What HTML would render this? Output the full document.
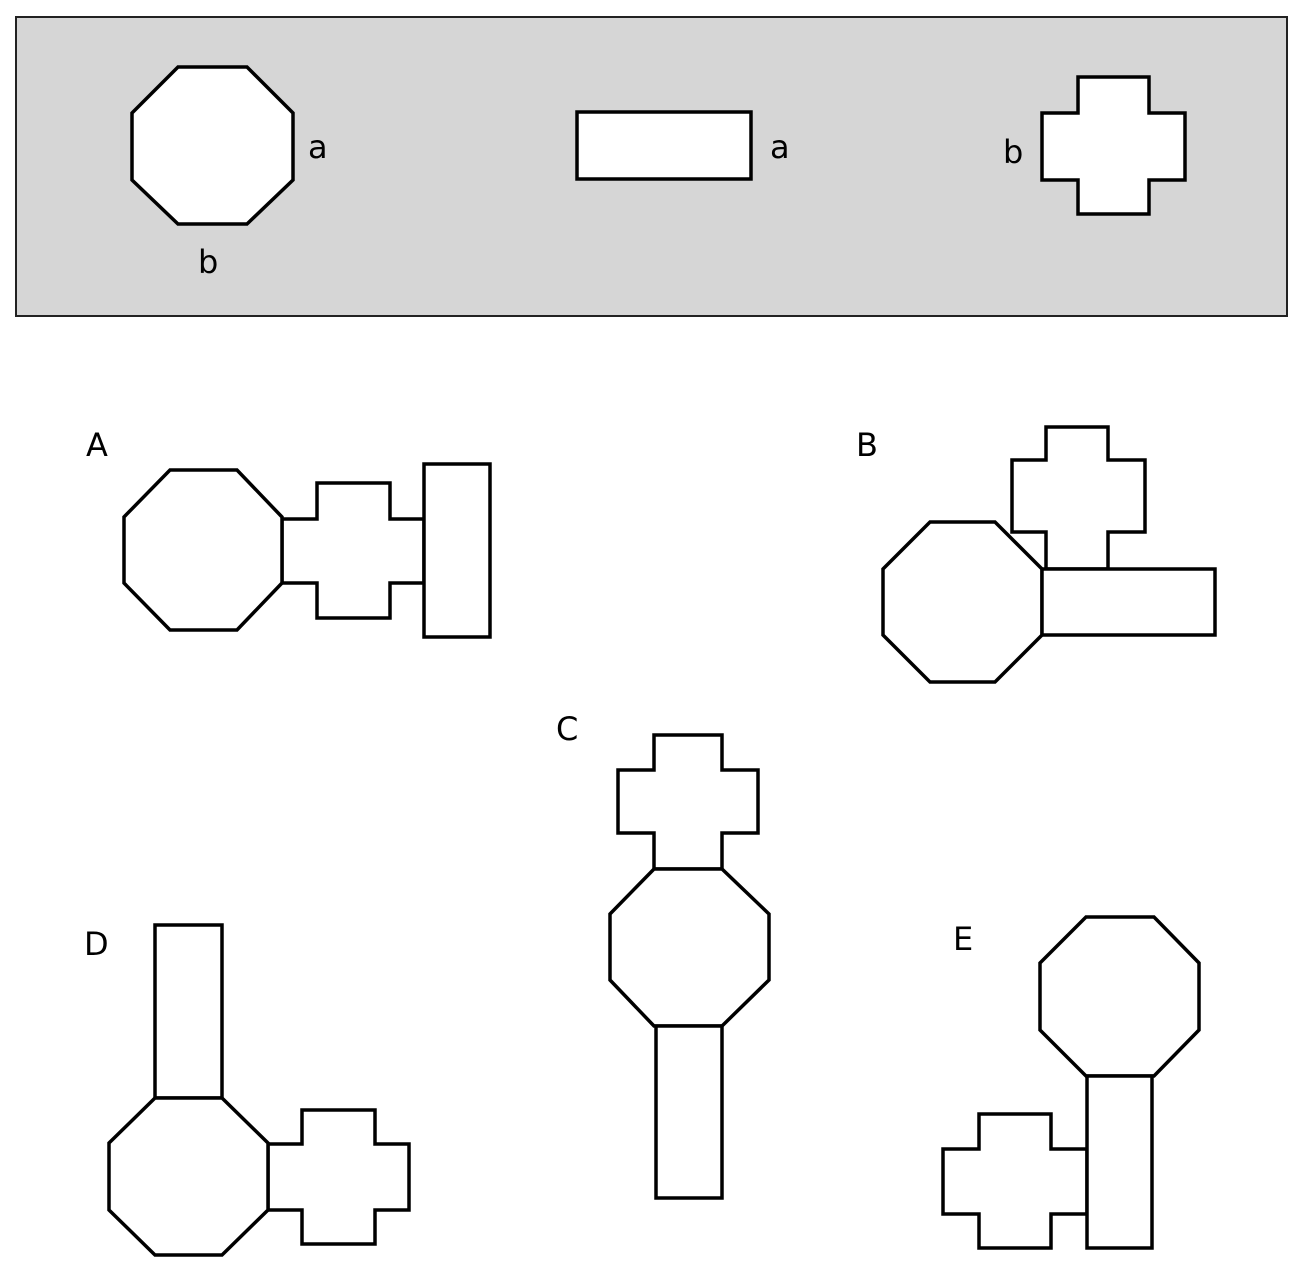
<!DOCTYPE html>
<html><head><style>body{margin:0;background:#fff}svg{display:block}text{font-family:"DejaVu Sans","Liberation Sans",sans-serif;font-size:32px;fill:#000}</style></head>
<body>
<svg width="1306" height="1276" viewBox="0 0 1306 1276" xmlns="http://www.w3.org/2000/svg">
<g stroke="#000" stroke-width="3.5" fill="#fff" stroke-linejoin="miter">
<rect x="16" y="17" width="1271" height="299" fill="#d6d6d6" stroke="#222" stroke-width="2"/>
<polygon points="178,67 247,67 293,113 293,180 247,224 178,224 132,180 132,113"/>
<rect x="577" y="112" width="174" height="67"/>
<polygon points="1078,77 1149,77 1149,113 1185,113 1185,180 1149,180 1149,214 1078,214 1078,180 1042,180 1042,113 1078,113"/>

<polygon points="317,483 390,483 390,519 424,519 424,583 390,583 390,618 317,618 317,583 282,583 282,519 317,519"/>
<polygon points="170,470 237,470 282,517 282,583 237,630 170,630 124,583 124,517"/>
<rect x="424" y="464" width="66" height="173"/>

<polygon points="1046,427 1108,427 1108,460 1145,460 1145,532 1108,532 1108,569 1046,569 1046,532 1012,532 1012,460 1046,460"/>
<polygon points="930,522 995,522 1042,569 1042,635 995,682 930,682 883,635 883,569"/>
<rect x="1042" y="569" width="173" height="66"/>

<polygon points="654,735 722,735 722,770 758,770 758,833 722,833 722,869 654,869 654,833 618,833 618,770 654,770"/>
<polygon points="654,869 722,869 769,914 769,980 722,1026 654,1026 610,980 610,914"/>
<rect x="656" y="1026" width="66" height="172"/>

<rect x="155" y="925" width="67" height="173"/>
<polygon points="302,1110 375,1110 375,1144 409,1144 409,1210 375,1210 375,1244 302,1244 302,1210 268,1210 268,1144 302,1144"/>
<polygon points="155,1098 222,1098 268,1143 268,1210 222,1255 155,1255 109,1210 109,1143"/>

<polygon points="979,1114 1051,1114 1051,1149 1087,1149 1087,1214 1051,1214 1051,1248 979,1248 979,1214 943,1214 943,1149 979,1149"/>
<polygon points="1086,917 1154,917 1199,963 1199,1030 1154,1076 1086,1076 1040,1030 1040,963"/>
<rect x="1087" y="1076" width="65" height="172"/>
</g>
<text x="308" y="158">a</text>
<text x="198" y="273">b</text>
<text x="770" y="158">a</text>
<text x="1003" y="163">b</text>
<text x="86" y="456">A</text>
<text x="856" y="456">B</text>
<text x="556" y="740">C</text>
<text x="84" y="955">D</text>
<text x="953" y="950">E</text>
</svg>
</body></html>
